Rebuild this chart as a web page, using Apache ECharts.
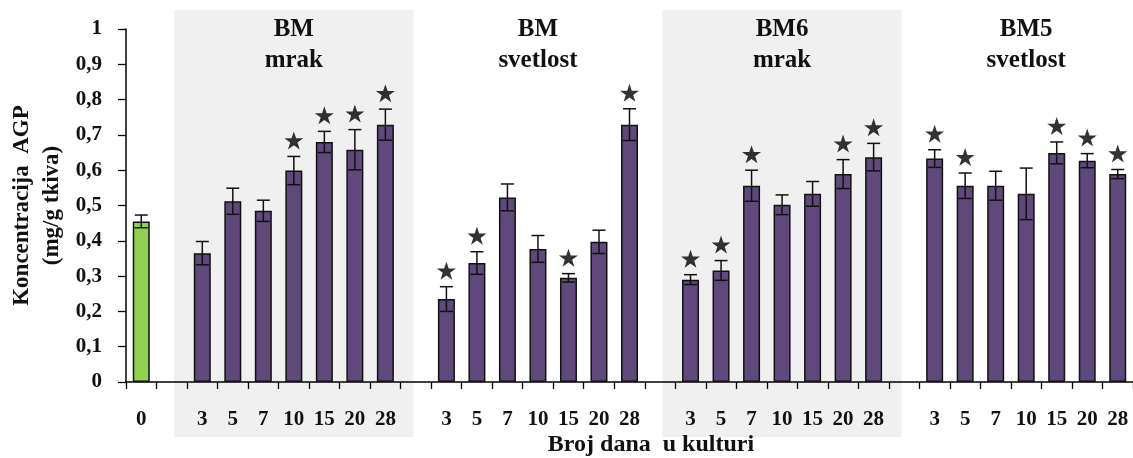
<!DOCTYPE html>
<html><head><meta charset="utf-8">
<script src="https://cdn.jsdelivr.net/npm/echarts@6/dist/echarts.min.js"></script>
<style>html,body{margin:0;padding:0;background:#fff}#c{width:1133px;height:458px}</style>
</head><body><div id="c"></div>
<script>
// ---- data ----
const days = ['3', '5', '7', '10', '15', '20', '28'];
const controlLabel = '0';
const controlValue = 0.455;
const controlErr = 0.018;
const groupTitles = ['BM\nmrak', 'BM\nsvetlost', 'BM6\nmrak', 'BM5\nsvetlost'];
const shadedGroups = [true, false, true, false];

const bmMrak = [0.365, 0.512, 0.485, 0.599, 0.680, 0.658, 0.729];
const bmMrakErr = [0.033, 0.037, 0.030, 0.040, 0.030, 0.057, 0.044];
const bmMrakStar = [0, 0, 0, 1, 1, 1, 1];

const bmSvetlost = [0.235, 0.337, 0.523, 0.377, 0.295, 0.397, 0.729];
const bmSvetlostErr = [0.035, 0.032, 0.038, 0.038, 0.012, 0.033, 0.045];
const bmSvetlostStar = [1, 1, 0, 0, 1, 0, 1];

const bm6Mrak = [0.290, 0.316, 0.556, 0.502, 0.533, 0.589, 0.637];
const bm6MrakErr = [0.014, 0.028, 0.044, 0.028, 0.035, 0.041, 0.039];
const bm6MrakStar = [1, 1, 1, 0, 0, 1, 1];

const bm5Svetlost = [0.633, 0.556, 0.556, 0.533, 0.649, 0.627, 0.589];
const bm5SvetlostErr = [0.025, 0.036, 0.041, 0.073, 0.031, 0.020, 0.013];
const bm5SvetlostStar = [1, 1, 0, 0, 1, 1, 1];

const yTickLabels = ['0', '0,1', '0,2', '0,3', '0,4', '0,5', '0,6', '0,7', '0,8', '0,9', '1'];
const xAxisTitle = 'Broj dana  u kulturi';
const yAxisTitle = 'Koncentracija  AGP\n(mg/g tkiva)';

// ---- build ----
const groups = [
  [bmMrak, bmMrakErr, bmMrakStar],
  [bmSvetlost, bmSvetlostErr, bmSvetlostStar],
  [bm6Mrak, bm6MrakErr, bm6MrakStar],
  [bm5Svetlost, bm5SvetlostErr, bm5SvetlostStar]
];
const categories = [controlLabel];
const barData = [{ value: controlValue, itemStyle: { color: '#92d050' } }];
const errData = [[0, controlValue, controlErr]];
const starData = [];
const blankIdx = [];
groups.forEach(([vals, errs, stars]) => {
  blankIdx.push(categories.length);
  categories.push('');
  barData.push('-');
  vals.forEach((v, i) => {
    const idx = categories.length;
    categories.push(days[i]);
    barData.push(v);
    errData.push([idx, v, errs[i]]);
    if (stars[i]) starData.push([idx, v + errs[i]]);
  });
});
blankIdx.push(categories.length); // trailing boundary

const FONT = '"Liberation Serif", "Times New Roman", serif';
const chart = echarts.init(document.getElementById('c'), null, { renderer: 'canvas' });

const option = {
  animation: false,
  backgroundColor: '#ffffff',
  grid: { left: 126, right: 0, top: 29, bottom: 76, containLabel: false, outerBoundsMode: 'none' },
  xAxis: {
    type: 'category',
    data: categories,
    boundaryGap: true,
    axisLine: { lineStyle: { color: '#000', width: 1.5 } },
    axisTick: { show: true, interval: 0, length: 7, lineStyle: { color: '#000', width: 1.3 } },
    axisLabel: { interval: 0, margin: 27, color: '#111', fontFamily: FONT, fontWeight: 'bold', fontSize: 21, hideOverlap: false },
    splitLine: { show: false }
  },
  yAxis: {
    type: 'value',
    min: 0, max: 1, interval: 0.1,
    axisLine: { show: true, lineStyle: { color: '#000', width: 1.5 } },
    axisTick: { show: true, length: 8, lineStyle: { color: '#000', width: 1.3 } },
    axisLabel: {
      margin: 24, color: '#111', fontFamily: FONT, fontWeight: 'bold', fontSize: 21,
      formatter: v => yTickLabels[Math.round(v * 10)]
    },
    splitLine: { show: false }
  },
  series: [
    {
      type: 'bar',
      data: barData,
      barWidth: 17,
      z: 3,
      itemStyle: { color: '#5f497a', borderColor: '#111', borderWidth: 1.5 }
    },
    {
      type: 'custom',
      z: 4,
      data: errData,
      renderItem: function (params, api) {
        const x = api.value(0), v = api.value(1), e = api.value(2);
        const top = api.coord([x, v + e]);
        const bot = api.coord([x, v - e]);
        const hw = 6.5;
        const st = { stroke: '#111', lineWidth: 1.5 };
        return {
          type: 'group',
          children: [
            { type: 'line', shape: { x1: top[0], y1: top[1], x2: bot[0], y2: bot[1] }, style: st },
            { type: 'line', shape: { x1: top[0] - hw, y1: top[1], x2: top[0] + hw, y2: top[1] }, style: st },
            { type: 'line', shape: { x1: bot[0] - hw, y1: bot[1], x2: bot[0] + hw, y2: bot[1] }, style: st }
          ]
        };
      }
    },
    {
      type: 'scatter',
      z: 5,
      data: starData,
      symbol: 'path://M50,0 L61.8,35.1 L98.9,35.1 L68.9,56.9 L80.3,91.9 L50,70.2 L19.7,91.9 L31.1,56.9 L1.1,35.1 L38.2,35.1 Z',
      symbolSize: [19, 18],
      symbolOffset: [0, -16],
      itemStyle: { color: '#000' }
    }
  ]
};
chart.setOption(option);

// shaded backgrounds, group titles, axis titles
const px = i => chart.convertToPixel({ xAxisIndex: 0 }, i);
const graphics = [];
groups.forEach((g, gi) => {
  const b0 = blankIdx[gi], b1 = blankIdx[gi + 1];
  const xl = px(b0) + 2.5;
  const xr = (b1 < categories.length ? px(b1) : px(b1 - 1) + (px(b1 - 1) - px(b1 - 2))) - 2.5;
  if (shadedGroups[gi]) {
    graphics.push({
      type: 'rect', z: -10, silent: true,
      shape: { x: xl, y: 10, width: xr - xl, height: 427 },
      style: { fill: '#f0f0f0' }
    });
  }
  graphics.push({
    type: 'text', z: 10, silent: true,
    x: px(b0 + 4), y: 14,
    style: {
      text: groupTitles[gi], font: 'bold 25px ' + FONT, fill: '#111',
      align: 'center', verticalAlign: 'top', textAlign: 'center', textVerticalAlign: 'top', lineHeight: 31
    }
  });
});
graphics.push({
  type: 'text', z: 10, silent: true,
  x: 651, y: 445,
  style: {
    text: xAxisTitle, font: 'bold 24px ' + FONT, fill: '#111',
    align: 'center', verticalAlign: 'middle', textAlign: 'center', textVerticalAlign: 'middle'
  }
});
graphics.push({
  type: 'text', z: 10, silent: true,
  x: 37.5, y: 205.5, rotation: Math.PI / 2,
  style: {
    text: yAxisTitle, font: 'bold 23px ' + FONT, fill: '#111', lineHeight: 30,
    align: 'center', verticalAlign: 'middle', textAlign: 'center', textVerticalAlign: 'middle'
  }
});
chart.setOption({ graphic: graphics });
</script>
</body></html>
